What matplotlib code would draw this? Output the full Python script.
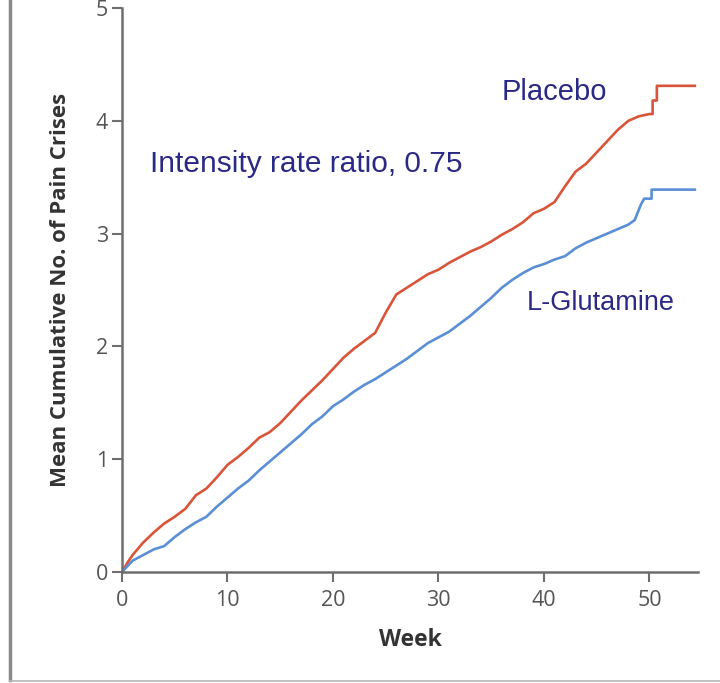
import matplotlib.pyplot as plt
from matplotlib.lines import Line2D

# values
weeks_placebo = [0, 0.5, 1, 2, 3, 4, 5, 6, 7, 8, 9, 10, 11, 12, 13, 14, 15, 16, 17, 18,
                 19, 20, 21, 22, 23, 24, 25, 26, 27, 28, 29, 30, 31, 32, 33, 34, 35, 36,
                 37, 38, 39, 40, 41, 42, 43, 44, 45, 46, 47, 48, 49, 50, 50.3, 50.3,
                 50.7, 50.7, 54.3]
placebo = [0, 0.08, 0.15, 0.26, 0.35, 0.43, 0.49, 0.56, 0.68, 0.74, 0.84, 0.95, 1.02, 1.10,
           1.19, 1.24, 1.32, 1.42, 1.52, 1.61, 1.70, 1.80, 1.90, 1.98, 2.05, 2.12, 2.30,
           2.46, 2.52, 2.58, 2.64, 2.68, 2.74, 2.79, 2.84, 2.88, 2.93, 2.99, 3.04, 3.10,
           3.18, 3.22, 3.28, 3.42, 3.55, 3.62, 3.72, 3.82, 3.92, 4.00, 4.04, 4.06, 4.06,
           4.18, 4.18, 4.31, 4.31]

weeks_glut = [0, 1, 2, 3, 4, 5, 6, 7, 8, 9, 10, 11, 12, 13, 14, 15, 16, 17, 18, 19, 20,
              21, 22, 23, 24, 25, 26, 27, 28, 29, 30, 31, 32, 33, 34, 35, 36, 37, 38, 39,
              40, 41, 42, 43, 44, 45, 46, 47, 48, 48.6, 49.2, 49.5, 50.2, 50.2, 54.3]
glutamine = [0, 0.10, 0.15, 0.20, 0.23, 0.31, 0.38, 0.44, 0.49, 0.58, 0.66, 0.74, 0.81,
             0.90, 0.98, 1.06, 1.14, 1.22, 1.31, 1.38, 1.47, 1.53, 1.60, 1.66, 1.71, 1.77,
             1.83, 1.89, 1.96, 2.03, 2.08, 2.13, 2.20, 2.27, 2.35, 2.43, 2.52, 2.59, 2.65,
             2.70, 2.73, 2.77, 2.80, 2.87, 2.92, 2.96, 3.00, 3.04, 3.08, 3.12, 3.26, 3.31,
             3.31, 3.39, 3.39]

x_ticks = [0, 10, 20, 30, 40, 50]
y_ticks = [0, 1, 2, 3, 4, 5]

navy = '#2b2986'
axis_grey = '#6e6e6e'

fig = plt.figure(figsize=(7.2, 6.83), dpi=100)
ax = fig.add_axes([122 / 720, 111 / 683, 576 / 720, 564 / 683])

ax.plot(weeks_placebo, placebo, color='#d9553a', lw=1.9)
ax.plot(weeks_glut, glutamine, color='#5a8fd6', lw=1.9)

ax.set_xlim(0, 54.6)
ax.set_ylim(0, 5)
ax.set_xticks(x_ticks)
ax.set_yticks(y_ticks)

for side in ['top', 'right']:
    ax.spines[side].set_visible(False)
for side in ['left', 'bottom']:
    ax.spines[side].set_color(axis_grey)
    ax.spines[side].set_linewidth(1.8)

ax.tick_params(direction='out', length=7, width=1.5, color=axis_grey,
               labelsize=15.5, labelcolor='#555555', pad=3)
ax.tick_params(axis='x', pad=6)
for lab in ax.get_xticklabels() + ax.get_yticklabels():
    lab.set_family('Open Sans')

ax.set_xlabel('Week', fontsize=16.5, fontweight='bold', color='#333333',
              family='Open Sans', labelpad=12)
ax.set_ylabel('Mean Cumulative No. of Pain Crises', fontsize=16, fontweight='bold',
              color='#333333', family='Open Sans', labelpad=18)

ax.text(36.0, 4.18, 'Placebo', fontsize=21, color=navy, family='Liberation Sans')
ax.text(2.65, 3.55, 'Intensity rate ratio, 0.75', fontsize=21.5, color=navy,
        family='Liberation Sans')
ax.text(38.4, 2.32, 'L-Glutamine', fontsize=19.5, color=navy, family='Liberation Sans')

# frame lines of the cropped picture
fig.add_artist(Line2D([10 / 720, 10 / 720], [3 / 683, 1], transform=fig.transFigure,
                      color='#8a8a8a', lw=2.5))
fig.add_artist(Line2D([10 / 720, 1], [2 / 683, 2 / 683], transform=fig.transFigure,
                      color='#b5b5b5', lw=1.2))

fig.savefig('out.png', dpi=100)
